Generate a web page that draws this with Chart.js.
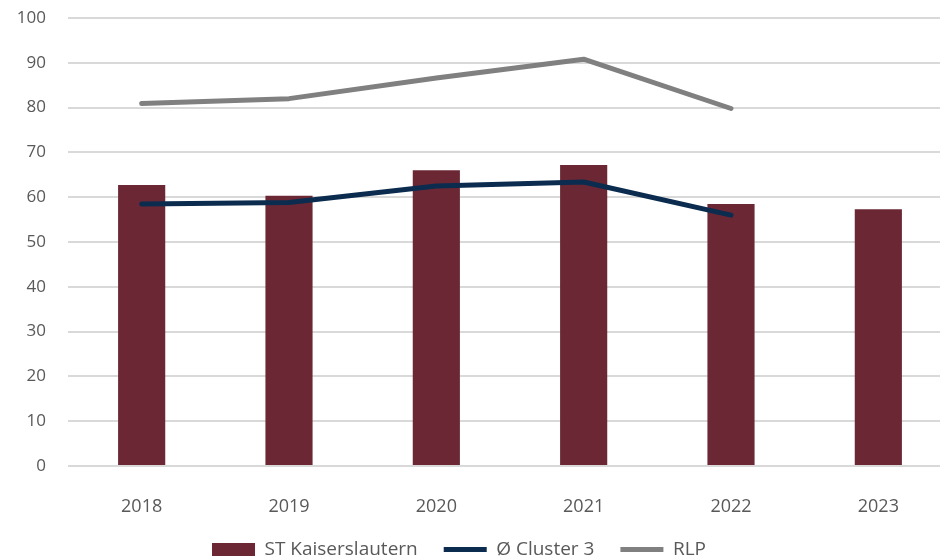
<!DOCTYPE html>
<html>
<head>
<meta charset="utf-8">
<script src="https://cdn.jsdelivr.net/npm/chart.js@4.4.1/dist/chart.umd.min.js"></script>
<style>
  html, body { margin: 0; padding: 0; background: #fff; overflow: hidden; }
  #wrap { width: 952px; height: 569px; }
</style>
</head>
<body>
<div id="wrap"><canvas id="myChart"></canvas></div>
<script>
var years = ['2018', '2019', '2020', '2021', '2022', '2023'];
var kaiserslautern = [62.7, 60.3, 66.0, 67.2, 58.5, 57.3];
var cluster3 = [58.5, 58.8, 62.5, 63.4, 56.0, null];
var rlp = [80.9, 82.0, 86.6, 90.8, 79.8, null];
var yTicks = [0, 10, 20, 30, 40, 50, 60, 70, 80, 90, 100];

// legend sits a bit left of the canvas centre in the original
var shiftLegend = {
  id: 'shiftLegend',
  afterLayout: function(chart) {
    if (chart.legend) {
      chart.legend.left -= 17;
      chart.legend.right -= 17;
    }
  }
};

document.addEventListener('DOMContentLoaded', function() {
  var ctx = document.getElementById('myChart').getContext('2d');
  Chart.defaults.font.family = '"Open Sans", sans-serif';
  Chart.defaults.color = '#595959';

  var myChart = new Chart(ctx, {
    type: 'bar',
    data: {
      labels: years,
      datasets: [
        {
          label: 'ST Kaiserslautern',
          data: kaiserslautern,
          backgroundColor: '#6b2834',
          borderWidth: 0,
          barPercentage: 0.32,
          categoryPercentage: 1,
          pointStyle: 'rect',
          order: 2
        },
        {
          type: 'line',
          label: 'Ø Cluster 3',
          data: cluster3,
          borderColor: '#0b2c4e',
          backgroundColor: '#0b2c4e',
          borderWidth: 5,
          borderCapStyle: 'round',
          borderJoinStyle: 'round',
          pointRadius: 0,
          pointStyle: 'line',
          tension: 0,
          order: 0
        },
        {
          type: 'line',
          label: 'RLP',
          data: rlp,
          borderColor: '#808080',
          backgroundColor: '#808080',
          borderWidth: 5,
          borderCapStyle: 'round',
          borderJoinStyle: 'round',
          pointRadius: 0,
          pointStyle: 'line',
          tension: 0,
          order: 1
        }
      ]
    },
    options: {
      responsive: true,
      maintainAspectRatio: false,
      animation: false,
      layout: { padding: { top: 18, left: 0, right: 0, bottom: 0 } },
      scales: {
        x: {
          grid: { display: false },
          border: { display: false },
          ticks: { padding: 22, font: { size: 18 }, color: '#595959' },
          afterFit: function(scale) { scale.height = 48; }
        },
        y: {
          min: 0,
          max: 100,
          afterBuildTicks: function(scale) {
            scale.ticks = yTicks.map(function(v) { return { value: v }; });
          },
          grid: { color: '#d9d9d9', lineWidth: 2, drawTicks: false },
          border: { display: false },
          ticks: { padding: 22, font: { size: 17 }, color: '#595959' },
          afterFit: function(scale) {
            scale.width = 68;
            scale.paddingTop = 10;
            scale.paddingBottom = 0;
          }
        }
      },
      plugins: {
        tooltip: { enabled: false },
        legend: {
          position: 'bottom',
          labels: {
            usePointStyle: true,
            pointStyleWidth: 43,
            boxHeight: 13,
            padding: 26,
            font: { size: 19 },
            color: '#595959',
            sort: function(a, b) { return a.datasetIndex - b.datasetIndex; }
          }
        }
      }
    },
    plugins: [shiftLegend]
  });
});
</script>
</body>
</html>
